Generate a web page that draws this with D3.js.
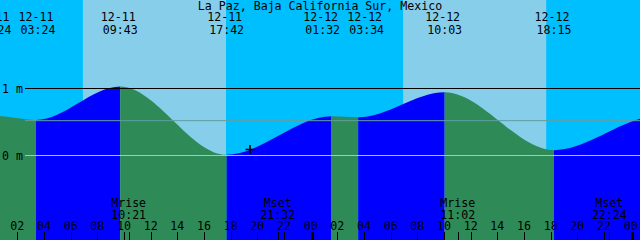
<!DOCTYPE html>
<html><head><meta charset="utf-8">
<script src="https://cdn.jsdelivr.net/npm/d3@7"></script>
<style>
html,body{margin:0;padding:0;background:#00bfff;overflow:hidden;}
svg{display:block;}
text{font-family:"DejaVu Sans Mono",monospace;font-size:11.6px;fill:#000;}
</style>
</head><body>
<svg id="chart" width="640" height="240"></svg>
<script>
// ---------- data ----------
const title = "La Paz, Baja California Sur, Mexico";
const viewStart = "12-11 00:42";
const viewEnd = "12-13 00:42";
// tide extremes (first and last two lie outside the visible window)
const tideTimes  = ["12-10 19:10","12-11 00:24","12-11 03:24","12-11 09:43","12-11 17:42","12-12 01:32","12-12 03:34","12-12 10:03","12-12 18:15","12-13 02:05","12-13 05:30"];
const tideLevels = [0.15, 0.59, 0.53, 1.03, 0.01, 0.585, 0.57, 0.945, 0.08, 0.59, 0.50];
const sunriseTimes = ["12-11 06:55","12-12 06:56"];
const sunsetTimes  = ["12-11 17:39","12-12 17:40"];
const moonNames = ["Mrise","Mset","Mrise","Mset"];
const moonTimes = ["12-11 10:21","12-11 21:32","12-12 11:02","12-12 22:24"];
const levelTicks = [0, 1];
const levelTickLabels = ["0 m","1 m"];
const meanLevel = 0.52;
const nowTime = "12-11 19:27";
const nowLevel = 0.09;

// ---------- setup ----------
const W = 640, H = 240;
const parse = d3.timeParse("%m-%d %H:%M");
const fmtDate = d3.timeFormat("%m-%d");
const fmtTime = d3.timeFormat("%H:%M");
const fmtHour = d3.timeFormat("%H");

const x = d3.scaleTime().domain([parse(viewStart), parse(viewEnd)]).range([0, W]);
const y = d3.scaleLinear().domain([0, 1]).range([155.5, 88.5]);

const svg = d3.select("#chart");
const defs = svg.append("defs");

const C = {night:"#00bfff", day:"#87ceeb", flood:"#0000ff", ebb:"#2e8b57",
           datum:"#87ceeb", msl:"#5f9ea0", mark:"#000"};

// sky
svg.append("rect").attr("x",0).attr("y",0).attr("width",W).attr("height",H).attr("fill",C.night);
svg.selectAll("rect.day").data(sunriseTimes.map((s,i)=>[parse(s), parse(sunsetTimes[i])]))
  .join("rect").attr("class","day")
  .attr("x", d=>x(d[0])).attr("width", d=>x(d[1])-x(d[0]))
  .attr("y",0).attr("height",H).attr("fill",C.day);

// water
const tides = tideTimes.map((t,i)=>({t:parse(t), v:tideLevels[i]}));
const area = d3.area().x(d=>x(d.t)).y0(H).y1(d=>y(d.v)).curve(d3.curveMonotoneX);
const areaPath = area(tides);
for (let i=0;i<tides.length-1;i++){
  const id = "seg"+i;
  defs.append("clipPath").attr("id",id).append("rect")
    .attr("x", x(tides[i].t)).attr("width", x(tides[i+1].t)-x(tides[i].t))
    .attr("y",0).attr("height",H);
  svg.append("path").attr("d",areaPath).attr("clip-path","url(#"+id+")")
    .attr("fill", tides[i+1].v > tides[i].v ? C.flood : C.ebb);
}

// level lines
svg.append("line").attr("x1",25).attr("x2",W).attr("y1",y(meanLevel)).attr("y2",y(meanLevel))
  .attr("stroke",C.msl).attr("stroke-width",1);
levelTicks.forEach((lv,i)=>{
  svg.append("line").attr("x1",25).attr("x2",W).attr("y1",y(lv)).attr("y2",y(lv))
    .attr("stroke", lv===0 ? C.datum : "#000").attr("stroke-width",1);
  svg.append("text").attr("x",2).attr("y",y(lv)+4).text(levelTickLabels[i]);
});

// now marker
const nx = x(parse(nowTime)), ny = y(nowLevel);
svg.append("path").attr("d",`M${nx-4.5},${ny}H${nx+4.5}M${nx},${ny-4.5}V${ny+4.5}`)
  .attr("stroke","#000").attr("stroke-width",1.6).attr("fill","none");

// title
svg.append("text").attr("x",W/2).attr("y",9.5).attr("text-anchor","middle").text(title);

// tide event labels, pushed apart where they would collide
const labels = tides.map(d=>({t:d.t, lx:x(d.t)}));
const minGap = 44;
for (let it=0; it<20; it++){
  for (let i=0;i<labels.length-1;i++){
    const dd = labels[i+1].lx - labels[i].lx;
    if (dd < minGap){ const s=(minGap-dd)/2; labels[i].lx-=s; labels[i+1].lx+=s; }
  }
}
const ev = svg.selectAll("g.ev").data(labels).join("g").attr("class","ev");
ev.append("text").attr("x",d=>d.lx-2).attr("y",21).attr("text-anchor","middle").text(d=>fmtDate(d.t));
ev.append("text").attr("x",d=>d.lx).attr("y",33.5).attr("text-anchor","middle").text(d=>fmtTime(d.t));

// moon labels
const moon = moonTimes.map((t,i)=>({t:parse(t), n:moonNames[i]}));
const mg = svg.selectAll("g.moon").data(moon).join("g").attr("class","moon");
mg.append("text").attr("x",d=>x(d.t)).attr("y",206.5).attr("text-anchor","middle").text(d=>d.n);
mg.append("text").attr("x",d=>x(d.t)).attr("y",218.5).attr("text-anchor","middle").text(d=>fmtTime(d.t));
mg.append("line").attr("x1",d=>Math.round(x(d.t))+0.5).attr("x2",d=>Math.round(x(d.t))+0.5)
  .attr("y1",232).attr("y2",H).attr("stroke","#000");

// hour axis
const hours = d3.timeHour.every(2).range(parse("12-11 00:00"), parse("12-13 01:00"));
svg.selectAll("text.hr").data(hours).join("text").attr("class","hr")
  .attr("x",d=>x(d)).attr("y",229.5).attr("text-anchor","middle").text(d=>fmtHour(d));
hours.forEach(h=>{
  const hx = x(h);
  if (h.getHours()===0){
    svg.append("rect").attr("x",Math.round(hx)).attr("y",232).attr("width",3).attr("height",8).attr("fill","#000");
  } else {
    svg.append("line").attr("x1",Math.round(hx)+0.5).attr("x2",Math.round(hx)+0.5)
      .attr("y1",232).attr("y2",H).attr("stroke","#000");
  }
});
</script>
</body></html>
